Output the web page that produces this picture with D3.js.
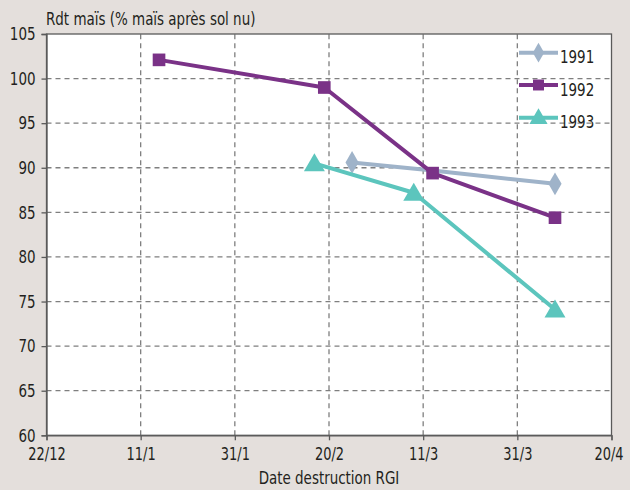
<!DOCTYPE html>
<html>
<head>
<meta charset="utf-8">
<script src="https://cdn.jsdelivr.net/npm/d3@7"></script>
<style>
  html, body { margin: 0; padding: 0; background: #e4dfdc; }
  svg { display: block; }
  text { font-family: "Liberation Sans Narrow", "DejaVu Sans Condensed", "Roboto Condensed", sans-serif; fill: #231f20; }
</style>
</head>
<body>
<svg id="chart" width="630" height="490"></svg>
<script>
// Data (x = days after 22/12)
const xTickValues = [0, 20, 40, 60, 80, 100, 120];
const xTickLabels = ["22/12", "11/1", "31/1", "20/2", "11/3", "31/3", "20/4"];
const yTickValues = [60, 65, 70, 75, 80, 85, 90, 95, 100, 105];
const seriesNames = ["1991", "1992", "1993"];
const days1991 = [64.9, 82.0, 108.0];
const vals1991 = [90.6, 89.7, 88.2];
const days1992 = [23.9, 59.0, 82.0, 108.0];
const vals1992 = [102.1, 99.0, 89.4, 84.4];
const days1993 = [56.9, 78.0, 108.0];
const vals1993 = [90.5, 87.2, 74.1];
const colors = ["#9fb3c9", "#7a3287", "#5cc5bd"];
const shapes = [d3.symbolDiamond, d3.symbolSquare, d3.symbolTriangle];

const svg = d3.select("#chart");
const W = 630, H = 490;
const m = { left: 46.5, right: 630 - 611.5, top: 34, bottom: 490 - 435.3 };
const FONT = '"Liberation Sans Narrow", "DejaVu Sans Condensed", sans-serif';

const x = d3.scaleLinear().domain([0, 120]).range([m.left, W - m.right]);
const y = d3.scaleLinear().domain([60, 105]).range([H - m.bottom, m.top]);

// plot background
svg.append("rect")
  .attr("x", x(0)).attr("y", y(105))
  .attr("width", x(120) - x(0)).attr("height", y(60) - y(105))
  .attr("fill", "#ffffff");

// grid
const grid = svg.append("g");
grid.selectAll(".hg").data(yTickValues.filter(v => v > 60 && v < 105)).join("line")
  .attr("x1", x(0)).attr("x2", x(120))
  .attr("y1", d => y(d)).attr("y2", d => y(d))
  .attr("stroke", "#7f7f7f").attr("stroke-width", 1.3).attr("stroke-dasharray", "5,4");
grid.selectAll(".vg").data(xTickValues.filter(v => v > 0 && v < 120)).join("line")
  .attr("y1", y(60)).attr("y2", y(105))
  .attr("x1", d => x(d)).attr("x2", d => x(d))
  .attr("stroke", "#7f7f7f").attr("stroke-width", 1.3).attr("stroke-dasharray", "5,4");

// border
svg.append("rect")
  .attr("x", x(0)).attr("y", y(105))
  .attr("width", x(120) - x(0)).attr("height", y(60) - y(105))
  .attr("fill", "none").attr("stroke", "#5a5a5a").attr("stroke-width", 1.3);

// axes
const yAxis = d3.axisLeft(y).tickValues(yTickValues).tickSize(5).tickPadding(6);
const gy = svg.append("g").attr("transform", `translate(${x(0)},0)`).call(yAxis);
gy.select(".domain").attr("stroke", "#5a5a5a").attr("stroke-width", 1.3);
gy.selectAll(".tick line").attr("stroke", "#5a5a5a").attr("stroke-width", 1.3);
gy.selectAll(".tick text").attr("font-size", 18).attr("fill", "#231f20").style("font-family", FONT);

const xAxis = d3.axisBottom(x).tickValues(xTickValues)
  .tickFormat((d, i) => xTickLabels[i]).tickSize(5).tickPadding(7);
const gx = svg.append("g").attr("transform", `translate(0,${y(60)})`).call(xAxis);
gx.select(".domain").attr("stroke", "#5a5a5a").attr("stroke-width", 1.3);
gx.selectAll(".tick line").attr("stroke", "#5a5a5a").attr("stroke-width", 1.3);
gx.selectAll(".tick text").attr("font-size", 18).attr("fill", "#231f20").style("font-family", FONT)
  .classed("xlab", true);
// keep the last label inside the canvas
gx.selectAll(".tick text").filter((d, i, n) => i === n.length - 1).attr("x", -3);

// titles
svg.append("text").attr("x", 46).attr("y", 25).attr("font-size", 18)
  .text("Rdt maïs (% maïs après sol nu)");
svg.append("text").attr("x", (x(0) + x(120)) / 2).attr("y", 484)
  .attr("text-anchor", "middle").attr("font-size", 18)
  .text("Date destruction RGI");

// series
const series = [
  { name: seriesNames[0], days: days1991, vals: vals1991 },
  { name: seriesNames[1], days: days1992, vals: vals1992 },
  { name: seriesNames[2], days: days1993, vals: vals1993 }
];
const line = d3.line().x(d => x(d[0])).y(d => y(d[1]));
const sizes = [150, 160, 190];

series.forEach((s, i) => {
  const pts = s.days.map((d, j) => [d, s.vals[j]]);
  const g = svg.append("g");
  g.append("path").datum(pts).attr("d", line)
    .attr("fill", "none").attr("stroke", colors[i]).attr("stroke-width", 4)
    .attr("stroke-linejoin", "round");
  const showPts = (i === 0) ? pts.filter((p, j) => j !== 1) : pts;
  g.selectAll("path.m").data(showPts).join("path")
    .attr("class", "m")
    .attr("transform", p => `translate(${x(p[0])},${y(p[1]) + (i === 2 ? 2 : 0)})`)
    .attr("d", d3.symbol().type(shapes[i]).size(sizes[i]))
    .attr("fill", colors[i]);
});

// legend
const legY = [52.7, 85, 117.7];
const lg = svg.append("g");
series.forEach((s, i) => {
  lg.append("line").attr("x1", 519).attr("x2", 558).attr("y1", legY[i]).attr("y2", legY[i])
    .attr("stroke", colors[i]).attr("stroke-width", 4);
  lg.append("path").attr("transform", `translate(538.5,${legY[i] + (i === 2 ? 1 : 0)})`)
    .attr("d", d3.symbol().type(shapes[i]).size(sizes[i] * 0.75)).attr("fill", colors[i]);
  lg.append("text").attr("x", 560).attr("y", legY[i] + 10.5).attr("font-size", 18).text(s.name);
});

// condense all text horizontally to mimic a narrow typeface
svg.selectAll("text").each(function () {
  const w = this.getComputedTextLength();
  const f = d3.select(this).classed("xlab") ? 0.8 : 0.83;
  if (w > 0) {
    d3.select(this).attr("textLength", (w * f).toFixed(1)).attr("lengthAdjust", "spacingAndGlyphs");
  }
});
</script>
</body>
</html>
